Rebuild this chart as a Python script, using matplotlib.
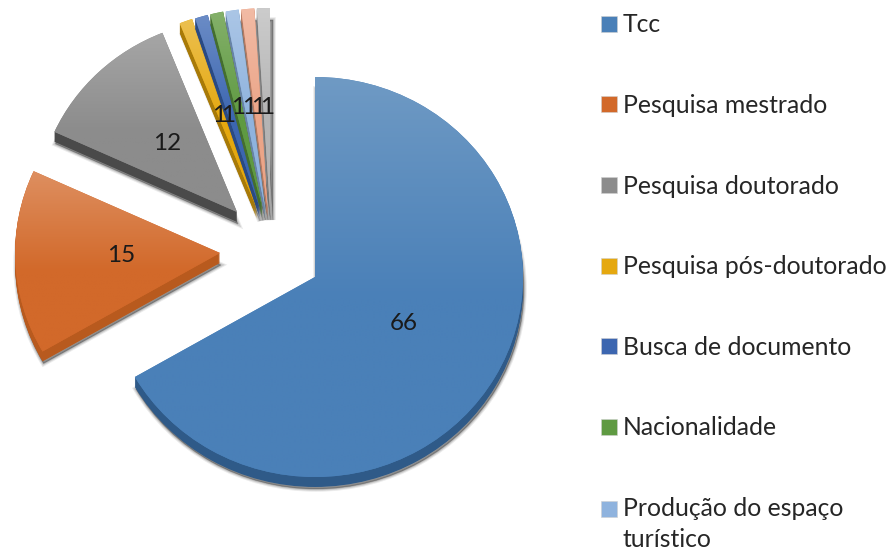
import numpy as np
import matplotlib
matplotlib.use("Agg")
import matplotlib.pyplot as plt
from matplotlib.patches import Wedge, Rectangle
from matplotlib.colors import to_rgb

plt.rcParams['font.family'] = ['Lato', 'DejaVu Sans']

categories = ["Tcc", "Pesquisa mestrado", "Pesquisa doutorado", "Pesquisa pós-doutorado",
              "Busca de documento", "Nacionalidade", "Produção do espaço\nturístico", "", ""]
values = [66, 15, 12, 1, 1, 1, 1, 1, 1]
legend_count = 7

base_colors = ["#4a80b8", "#d2692a", "#8c8c8c", "#e5a80f", "#3c66b0", "#5f9a42", "#8fb3de", "#eba588", "#b4b4b4"]
light_colors = ["#6f9ac4", "#de8f60", "#a6a6a6", "#ecc050", "#6b8cc6", "#84b06a", "#abc6e6", "#f2bba5", "#cccccc"]
depth_colors = ["#2f5a88", "#b85a1e", "#4a4a4a", "#a87a08", "#2a4a82", "#446e2f", "#6784a6", "#b57a62", "#7c7c7c"]

# layout in pixels of the 890x553 picture
W, H = 890, 553
RX, RY = 208, 200
CX, CY = 315, 277
apex_px = [(315, 277), (220, 253), (237, 212), (257, 209), (260, 208.5),
           (262.5, 208), (265, 208), (267.5, 208), (270, 208)]
radius_scale = [1, 0.985, 0.965, 1, 1, 1, 1, 1, 1]
label_px = [(404, 323), (121, 255), (167, 143), (219, 115), (228, 115),
            (238, 108), (249, 108), (258, 108), (267, 108)]
DEPTH = 10


def px(x, y):
    return (x - CX) / RX, (CY - y) / RY


fig = plt.figure(figsize=(W / 100, H / 100), dpi=100, facecolor="white")
ax = fig.add_axes([0, 0, 1, 1])
wedges, _ = ax.pie(values, startangle=90, counterclock=False, colors=base_colors,
                   wedgeprops=dict(linewidth=0))
ax.set_aspect("auto")

for i, w in enumerate(wedges):
    cx, cy = px(*apex_px[i])
    r = radius_scale[i]
    w.set_center((cx, cy))
    w.set_radius(r)
    z = 10 + i * 3
    # soft shadow
    sx = 3 if i >= 3 else 1
    for lw, a in zip([4.0, 2.5, 1.0], [0.08, 0.12, 0.18]):
        s = Wedge((cx + sx / RX, cy - (DEPTH + 2) / RY), r, w.theta1, w.theta2,
                  facecolor="#000000", alpha=a, linewidth=lw, edgecolor="#000000",
                  zorder=z - 1)
        ax.add_patch(s)
    # extruded side
    for d in range(1, DEPTH + 1):
        ax.add_patch(Wedge((cx, cy - d / RY), r, w.theta1, w.theta2,
                           facecolor=depth_colors[i], linewidth=0, zorder=z))
    # face with vertical gradient clipped to the wedge
    w.set_zorder(z + 1)
    v = w.get_path().vertices
    top, bot = v[:, 1].max(), v[:, 1].min()
    left, right = v[:, 0].min(), v[:, 0].max()
    c0, c1 = np.array(to_rgb(light_colors[i])), np.array(to_rgb(base_colors[i]))
    t = np.clip(np.linspace(0, 1, 256) / 0.55, 0, 1)[:, None, None]
    grad = (c0[None, None, :] * (1 - t) + c1[None, None, :] * t)
    im = ax.imshow(grad, extent=(left, right, bot, top), origin="upper", aspect="auto",
                   zorder=z + 2, interpolation="bilinear")
    im.set_clip_path(w)

ax.set_xlim(-CX / RX, (W - CX) / RX)
ax.set_ylim((CY - H) / RY, CY / RY)
ax.set_aspect("auto")
ax.axis("off")

for i, val in enumerate(values):
    x, y = px(*label_px[i])
    ax.text(x, y, str(val), ha="center", va="center", fontsize=17.5, color="#1a1a1a", zorder=100)

handles = [Rectangle((0, 0), 1, 1, facecolor=base_colors[i], edgecolor="#d0d0d0", linewidth=0.4)
           for i in range(legend_count)]
leg = fig.legend(handles, categories[:legend_count], loc="upper left",
                 bbox_to_anchor=(594 / W, 1 - 6 / H), frameon=False, fontsize=17.8,
                 labelcolor="#262626", labelspacing=2.33, handlelength=0.62, handleheight=0.62,
                 handletextpad=0.25, borderpad=0.3, borderaxespad=0)
leg.get_texts()[-1].set_linespacing(1.42)
last = leg.legend_handles[-1]
last.set_y(last.get_y() + 11.5)

fig.savefig("out.png", dpi=100, facecolor="white")
